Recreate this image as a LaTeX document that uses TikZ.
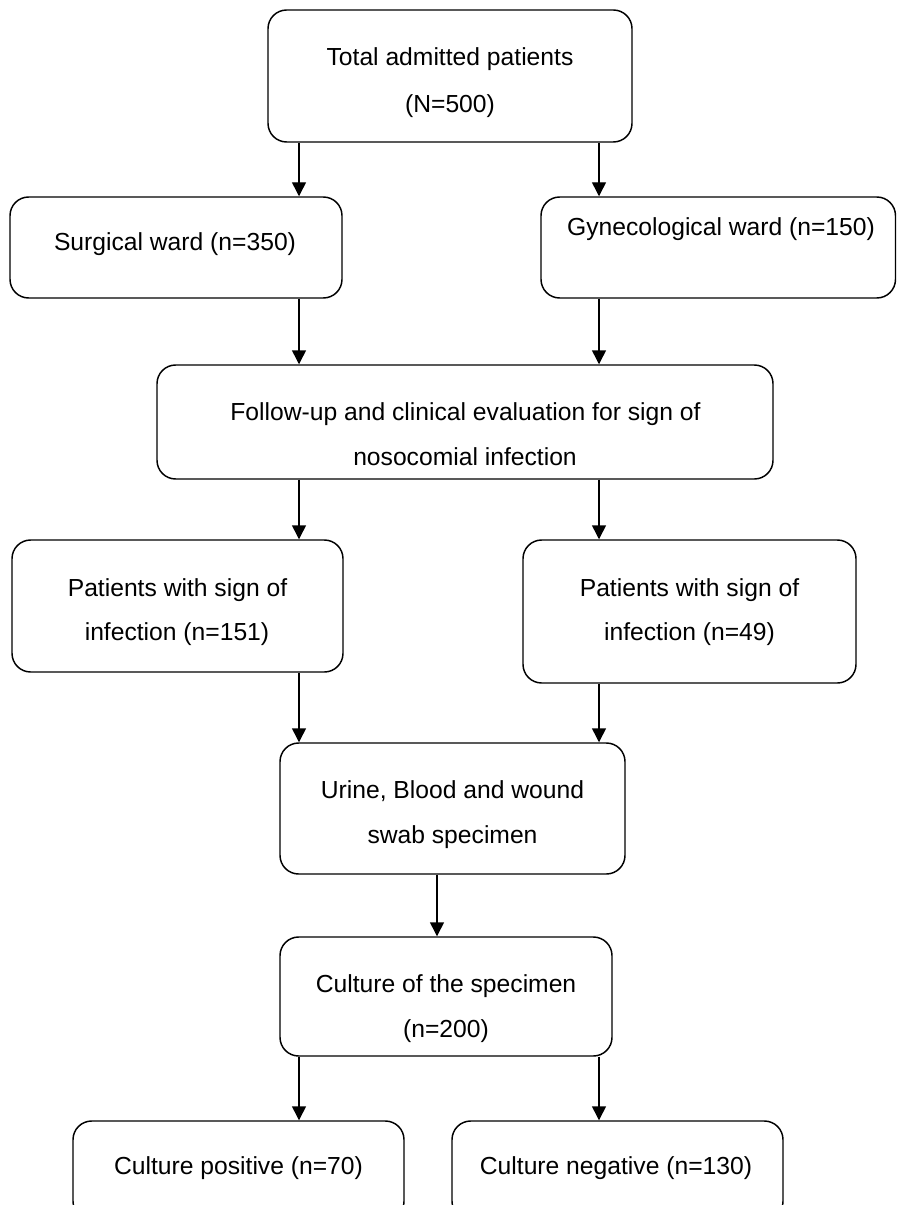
\documentclass[tikz,border=0pt]{standalone}
\usepackage{fontspec}
\setmainfont{Liberation Sans}
\usetikzlibrary{arrows.meta}
\begin{document}
\begin{tikzpicture}[x=0.75pt,y=-0.75pt,
  box/.style={draw=black, line width=1.1pt, rounded corners=14pt, inner sep=0pt, fill=none},
  lbl/.style={anchor=base, inner sep=0pt, font=\fontsize{18.5}{22}\selectfont},
  arr/.style={draw=black, line width=1.1pt, -{Triangle[width=10.5pt,length=10.5pt]}}]
\useasboundingbox (0,0) rectangle (897,1205);
\clip (0,0) rectangle (897,1205);
\fill[white] (0,0) rectangle (897,1205);
% boxes
\node[box, minimum width={364*0.75pt}, minimum height={132*0.75pt}] (b1) at (450,76) {};
\node[box, minimum width={332*0.75pt}, minimum height={101*0.75pt}] (b2) at (176,247.5) {};
\node[box, minimum width={354.5*0.75pt}, minimum height={101*0.75pt}] (b3) at (718.25,247.5) {};
\node[box, minimum width={616*0.75pt}, minimum height={114*0.75pt}] (b4) at (465,422) {};
\node[box, minimum width={331*0.75pt}, minimum height={132*0.75pt}] (b5) at (177.5,606) {};
\node[box, minimum width={333*0.75pt}, minimum height={143*0.75pt}] (b6) at (689.5,611.5) {};
\node[box, minimum width={345*0.75pt}, minimum height={131*0.75pt}] (b7) at (452.5,808.5) {};
\node[box, minimum width={332*0.75pt}, minimum height={119*0.75pt}] (b8) at (446,996.5) {};
\node[box, minimum width={331*0.75pt}, minimum height={99*0.75pt}] (b9) at (238.5,1170.5) {};
\node[box, minimum width={331*0.75pt}, minimum height={99*0.75pt}] (b10) at (617.5,1170.5) {};
% texts
\node[lbl] (t1a) at (450,66) {Total admitted patients};
\node[lbl] (t1b) at (450,113) {(N=500)};
\node[lbl] (t2) at (175,251) {Surgical ward (n=350)};
\node[lbl] (t3) at (721,236) {Gynecological ward (n=150)};
\node[lbl] (t4a) at (465.5,420) {Follow-up and clinical evaluation for sign of};
\node[lbl] (t4b) at (465,465) {nosocomial infection};
\node[lbl] (t5a) at (177.5,596) {Patients with sign of};
\node[lbl] (t5b) at (177,640) {infection (n=151)};
\node[lbl] (t6a) at (689.5,596) {Patients with sign of};
\node[lbl] (t6b) at (689.5,640.5) {infection (n=49)};
\node[lbl] (t7a) at (452.5,798) {Urine, Blood and wound};
\node[lbl] (t7b) at (452.5,843) {swab specimen};
\node[lbl] (t8a) at (446,992) {Culture of the specimen};
\node[lbl] (t8b) at (446,1037) {(n=200)};
\node[lbl] (t9) at (238.5,1174) {Culture positive (n=70)};
\node[lbl] (t10) at (616,1174) {Culture negative (n=130)};
% connector columns
\coordinate (L) at (299,0);
\coordinate (R) at (599,0);
\coordinate (M) at (437,0);
\draw[arr] (b1.south -| L) -- (b2.north -| L);
\draw[arr] (b1.south -| R) -- (b3.north -| R);
\draw[arr] (b2.south -| L) -- (b4.north -| L);
\draw[arr] (b3.south -| R) -- (b4.north -| R);
\draw[arr] (b4.south -| L) -- (b5.north -| L);
\draw[arr] (b4.south -| R) -- (b6.north -| R);
\draw[arr] (b5.south -| L) -- (b7.north -| L);
\draw[arr] (b6.south -| R) -- (b7.north -| R);
\draw[arr] (b7.south -| M) -- (b8.north -| M);
\draw[arr] (b8.south -| L) -- (b9.north -| L);
\draw[arr] (b8.south -| R) -- (b10.north -| R);
\end{tikzpicture}
\end{document}
